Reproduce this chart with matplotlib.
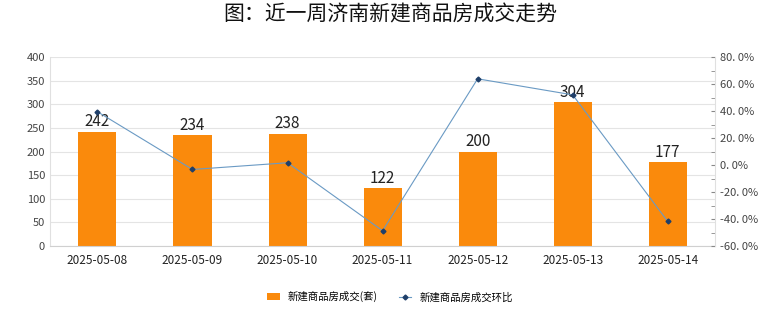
import matplotlib
matplotlib.use("Agg")
import matplotlib.pyplot as plt
import numpy as np
from matplotlib.ticker import MultipleLocator, FuncFormatter

plt.rcParams['font.family'] = ['Noto Sans CJK SC', 'DejaVu Sans']

dates = ["2025-05-08", "2025-05-09", "2025-05-10", "2025-05-11", "2025-05-12", "2025-05-13", "2025-05-14"]
deals = [242, 234, 238, 122, 200, 304, 177]
mom_pct = [39.5, -3.3, 1.7, -48.7, 63.9, 52.0, -41.8]

bar_color = "#FA8A0C"
line_color = "#6A9AC4"

fig = plt.figure(figsize=(7.8, 3.28), dpi=100)
ax = fig.add_axes([0.064, 0.25, 0.853, 0.576])
x = np.arange(len(dates))
bars = ax.bar(x, deals, width=0.4, color=bar_color, label="新建商品房成交(套)", zorder=2)
for xi, v in zip(x, deals):
    ax.text(xi, v + 3, str(v), ha="center", va="bottom", fontsize=11, color="#222222", zorder=5)
ax.set_ylim(0, 400)
ax.yaxis.set_major_locator(MultipleLocator(50))
ax.set_xlim(-0.5, len(dates) - 0.5)
ax.set_xticks(x)
ax.set_xticklabels(dates, fontsize=8.5, color="#222222")
ax.tick_params(axis="y", labelsize=8, colors="#444444", length=0)
ax.tick_params(axis="x", length=0, pad=6)
ax.grid(axis="y", color="#E4E4E4", linewidth=0.8, zorder=0)
for s in ["top", "right"]:
    ax.spines[s].set_visible(False)
ax.spines["left"].set_color("#E0E0E0")
ax.spines["bottom"].set_color("#D0D0D0")

ax2 = ax.twinx()
ln, = ax2.plot(x, mom_pct, color=line_color, linewidth=0.8, marker="D", markersize=2.5,
               markerfacecolor="#1F3F6A", markeredgecolor="#1F3F6A", label="新建商品房成交环比", zorder=4)
ax2.set_ylim(-60, 80)
ax2.yaxis.set_major_locator(MultipleLocator(20))
ax2.yaxis.set_minor_locator(MultipleLocator(10))
ax2.yaxis.set_major_formatter(FuncFormatter(lambda v, p: f"{v:.1f}%".replace(".", ". ")))
ax2.tick_params(axis="y", which="both", labelsize=8, colors="#444444", direction="in", length=3)
ax2.tick_params(axis="y", which="both", color="#888888")
for s in ["top", "left", "bottom"]:
    ax2.spines[s].set_visible(False)
ax2.spines["right"].set_color("#E0E0E0")

fig.suptitle("图：近一周济南新建商品房成交走势", fontsize=15, y=0.99, color="#111111")
fig.legend([bars, ln], ["新建商品房成交(套)", "新建商品房成交环比"], loc="center", bbox_to_anchor=(0.5, 0.095),
           ncol=2, frameon=False, fontsize=7.5, handlelength=1.2, handleheight=0.7, columnspacing=2)

fig.savefig("out.png", dpi=100)
